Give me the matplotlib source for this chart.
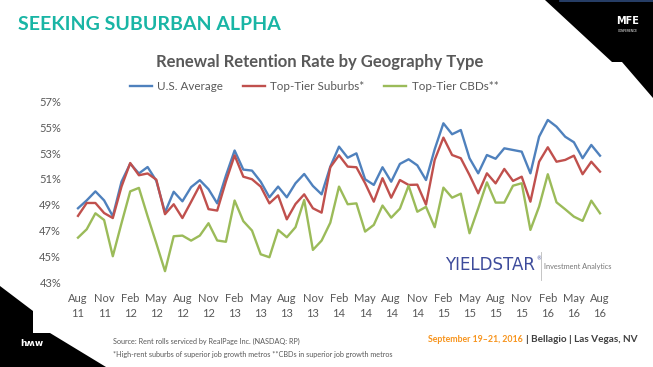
import matplotlib.pyplot as plt
import matplotlib.patches as mpatches
from matplotlib.lines import Line2D

# Data: monthly renewal retention rate (%), Aug 2011 .. Aug 2016
MONTHS = ["Aug", "Sep", "Oct", "Nov", "Dec", "Jan", "Feb", "Mar", "Apr", "May", "Jun", "Jul"]
START_YEAR = 11

US_AVERAGE = [
    48.72, 49.33, 50.03, 49.33, 48.1, 50.78, 52.18, 51.42, 51.92, 50.85,
    48.4, 50.0, 49.26, 50.36, 50.9, 50.2, 49.1, 51.25, 53.2, 51.72,
    51.64, 50.78, 49.57, 50.4, 49.57, 50.66, 51.38, 50.45, 49.8, 51.95,
    53.5, 52.64, 52.98, 50.97, 50.53, 51.9, 50.78, 52.16, 52.52, 52.05,
    50.91, 53.3, 55.31, 54.46, 54.79, 52.6, 51.43, 52.85, 52.56, 53.37,
    53.24, 53.11, 51.43, 54.27, 55.57, 55.05, 54.27, 53.84, 52.6, 53.63,
    52.8,
]
TOP_TIER_SUBURBS = [
    48.13, 49.13, 49.13, 48.35, 47.96, 50.4, 52.23, 51.28, 51.42, 50.94,
    48.26, 49.03, 47.96, 49.22, 50.5, 48.65, 48.54, 50.8, 52.82, 51.17,
    50.97, 50.4, 49.1, 49.72, 47.86, 49.05, 49.8, 48.72, 48.38, 51.9,
    52.83, 51.95, 51.9, 50.66, 49.23, 51.05, 49.54, 50.91, 50.53, 50.55,
    49.0, 52.47, 54.2, 52.85, 52.6, 51.3, 49.88, 51.43, 50.65, 51.77,
    50.84, 51.17, 49.23, 52.33, 53.45, 52.33, 52.47, 52.8, 51.36, 52.33,
    51.56,
]
TOP_TIER_CBDS = [
    46.44, 47.09, 48.33, 47.81, 45.0, 47.56, 50.03, 50.3, 48.1, 46.0,
    43.84, 46.55, 46.6, 46.21, 46.6, 47.56, 46.22, 46.12, 49.32, 47.72,
    46.99, 45.15, 44.92, 47.04, 46.47, 47.25, 49.36, 45.49, 46.21, 47.6,
    50.4, 49.03, 49.1, 46.91, 47.43, 48.93, 47.99, 48.69, 50.47, 48.45,
    48.83, 47.25, 50.32, 49.54, 49.85, 46.78, 48.72, 50.73, 49.16, 49.16,
    50.47, 50.66, 47.04, 48.85, 51.36, 49.18, 48.64, 48.07, 47.74, 49.31,
    48.33,
]
SERIES_NAMES = ["U.S. Average", "Top-Tier Suburbs*", "Top-Tier CBDs**"]
COLORS = ["#4F81BD", "#C0504D", "#9BBB59"]
Y_TICKS = [43, 45, 47, 49, 51, 53, 55, 57]

GRAY = "#595959"
FONT = "Lato"

n = len(US_AVERAGE)
x = list(range(n))
tick_pos = x[::3]
tick_labels = [f"{MONTHS[i % 12]}\n{START_YEAR + (i + 7) // 12}" for i in tick_pos]

fig = plt.figure(figsize=(6.53, 3.67), dpi=100)
fig.patch.set_facecolor("white")
renderer = fig.canvas.get_renderer()

ax = fig.add_axes([0.1128, 0.2316, 0.8127, 0.4918])
for vals, name, color in zip([US_AVERAGE, TOP_TIER_SUBURBS, TOP_TIER_CBDS], SERIES_NAMES, COLORS):
    ax.plot(x, vals, color=color, lw=1.7, label=name, solid_joinstyle="round")

ax.set_xlim(-0.5, n - 0.5)
ax.set_ylim(43, 57)
ax.set_yticks(Y_TICKS)
ax.set_yticklabels([f"{v}%" for v in Y_TICKS])
ax.set_xticks(tick_pos)
ax.set_xticklabels(tick_labels, linespacing=1.45)
for s in ax.spines.values():
    s.set_visible(False)
ax.tick_params(length=0, colors=GRAY, labelsize=8)
ax.tick_params(axis="y", pad=9)
ax.tick_params(axis="x", pad=8)
for lab in ax.get_xticklabels() + ax.get_yticklabels():
    lab.set_fontfamily(FONT)

fig.legend(
    handles=[Line2D([], [], color=c, lw=1.7) for c in COLORS],
    labels=SERIES_NAMES,
    loc="center",
    bbox_to_anchor=(0.481, 0.765),
    ncol=3,
    frameon=False,
    handlelength=1.9,
    handletextpad=0.45,
    columnspacing=1.7,
    prop={"family": FONT, "size": 8.4},
    labelcolor=GRAY,
)

# Headers
fig.text(0.027, 0.932, "SEEKING SUBURBAN ALPHA", color="#19B5A5", fontsize=14,
         fontweight="bold", family=FONT, va="center", ha="left")
fig.text(0.49, 0.832, "Renewal Retention Rate by Geography Type", color=GRAY,
         fontsize=12, fontweight="bold", family=FONT, va="center", ha="center")

# Top-right corner graphic
fig.patches.append(mpatches.Polygon(
    [(545 / 653, 1), (612 / 653, 1 - 62 / 367), (622 / 653, 1 - 62 / 367),
     (1, 1 - 98 / 367), (1, 1)],
    closed=True, transform=fig.transFigure, facecolor="black", edgecolor="none"))
fig.lines.append(Line2D([560 / 653, 1], [0.997, 0.997], transform=fig.transFigure,
                        color="#2E4A7A", lw=1.2))
fig.text(628 / 653, 1 - 21 / 367, "MFE", color="white", fontsize=7, fontweight="bold",
         family="DejaVu Sans Condensed", ha="center", va="center")
fig.text(628 / 653, 1 - 31 / 367, "CONFERENCE", color="white", fontsize=2.2,
         family="DejaVu Sans", ha="center", va="center")

# Bottom-left corner graphic
fig.patches.append(mpatches.Polygon(
    [(0, 1 - 286 / 367), (33 / 653, 1 - 311 / 367), (33 / 653, 1 - 333 / 367),
     (50 / 653, 1 - 333 / 367), (106 / 653, 0), (0, 0)],
    closed=True, transform=fig.transFigure, facecolor="black", edgecolor="none"))
fig.text(32 / 653, 1 - 343 / 367, "h\u028dw", color="white", fontsize=6.5, fontweight="bold",
         family="DejaVu Sans", ha="center", va="center")

# YieldStar logo
logo = fig.text(445 / 653, 1 - 265 / 367, "YIELDSTAR", color="#3D4B9B", fontsize=12.0,
                family="DejaVu Sans Condensed", ha="left", va="center")
lb = logo.get_window_extent(renderer)
fig.text((lb.x1 + 1) / 653, lb.y1 / 367, "\u00ae", color="#3D4B9B", fontsize=3.5,
         family="DejaVu Sans", ha="left", va="top")
fig.lines.append(Line2D([541 / 653, 541 / 653], [1 - 252 / 367, 1 - 280 / 367],
                        transform=fig.transFigure, color="#BBBBBB", lw=0.6))
fig.text(544 / 653, 1 - 267 / 367, "Investment Analytics", color="#777777", fontsize=5.3,
         family=FONT, ha="left", va="center")

# Footer
fig.text(113 / 653, 1 - 341 / 367, "Source: Rent rolls serviced by RealPage Inc. (NASDAQ: RP)",
         color=GRAY, fontsize=5.2, family=FONT, ha="left", va="center")
fig.text(113 / 653, 1 - 354 / 367,
         "*High-rent suburbs of superior job growth metros **CBDs in superior job growth metros",
         color=GRAY, fontsize=5.2, family=FONT, ha="left", va="center")
date_txt = fig.text(428 / 653, 1 - 340 / 367, "September 19\u201321, 2016", color="#F7941D",
                    fontsize=6.3, fontweight="bold", family=FONT, ha="left", va="center")
bb = date_txt.get_window_extent(renderer)
fig.text((bb.x1 + 3) / 653, 1 - 340 / 367, "| Bellagio | Las Vegas, NV", color="#404040",
         fontsize=7.2, fontweight="bold", family=FONT, ha="left", va="center")

fig.savefig("out.png", dpi=100, facecolor="white")
